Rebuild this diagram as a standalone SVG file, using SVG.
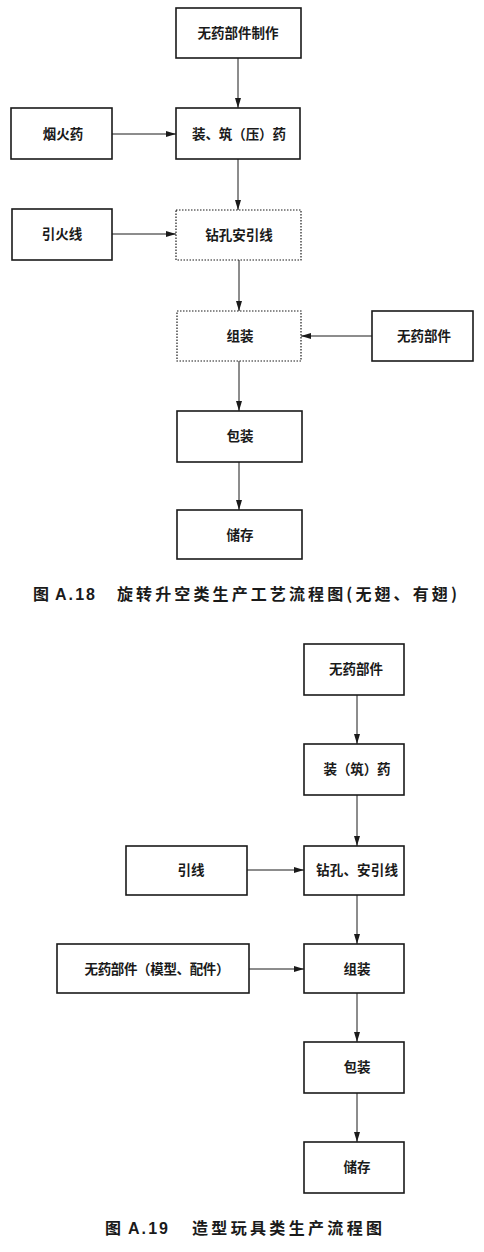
<svg xmlns="http://www.w3.org/2000/svg" width="484" height="1252" viewBox="0 0 484 1252">
<defs>
<marker id="arr" viewBox="0 0 10 6" refX="10" refY="3" markerWidth="10" markerHeight="6" markerUnits="userSpaceOnUse" orient="auto">
<path d="M0,0 L10,3 L0,6 Z" fill="#1a1a1a"/>
</marker>
<style>
.box{fill:#fff;stroke:#1a1a1a;stroke-width:1.6}
.dot{fill:#fff;stroke:#1a1a1a;stroke-width:1.2;stroke-dasharray:1.5 1.5}
.t{font-family:"Noto Sans CJK SC","Noto Sans CJK JP",sans-serif;font-size:13.5px;font-weight:bold;fill:#1a1a1a;text-anchor:middle}
.cap{font-family:"Noto Sans CJK SC","Liberation Sans",sans-serif;font-size:16px;font-weight:bold;fill:#1a1a1a}
.ln{stroke:#1a1a1a;stroke-width:1;fill:none}
</style>
</defs>
<rect width="484" height="1252" fill="#fff"/>

<g id="connectors">
<line class="ln" x1="238" y1="58" x2="238" y2="108" marker-end="url(#arr)"/>
<line class="ln" x1="112" y1="134" x2="176" y2="134" marker-end="url(#arr)"/>
<line class="ln" x1="238" y1="159" x2="238" y2="210" marker-end="url(#arr)"/>
<line class="ln" x1="112" y1="234" x2="176" y2="234" marker-end="url(#arr)"/>
<line class="ln" x1="239" y1="260" x2="239" y2="311" marker-end="url(#arr)"/>
<line class="ln" x1="372" y1="336" x2="301" y2="336" marker-end="url(#arr)"/>
<line class="ln" x1="239" y1="361" x2="239" y2="411" marker-end="url(#arr)"/>
<line class="ln" x1="239" y1="462" x2="239" y2="510" marker-end="url(#arr)"/>

<line class="ln" x1="357" y1="695" x2="357" y2="744" marker-end="url(#arr)"/>
<line class="ln" x1="357" y1="795" x2="357" y2="846" marker-end="url(#arr)"/>
<line class="ln" x1="247" y1="870" x2="304" y2="870" marker-end="url(#arr)"/>
<line class="ln" x1="357" y1="895" x2="357" y2="944" marker-end="url(#arr)"/>
<line class="ln" x1="249" y1="969" x2="304" y2="969" marker-end="url(#arr)"/>
<line class="ln" x1="357" y1="993" x2="357" y2="1042" marker-end="url(#arr)"/>
<line class="ln" x1="357" y1="1093" x2="357" y2="1142" marker-end="url(#arr)"/>
</g>

<g id="n1"><rect class="box" x="176" y="8" width="125" height="50"/><text class="t" x="238" y="38">无药部件制作</text></g>
<g id="n2"><rect class="box" x="176" y="108" width="124" height="51"/><text class="t" x="239" y="139" textLength="94" lengthAdjust="spacing">装、筑（压）药</text></g>
<g id="n3"><rect class="box" x="11" y="108" width="101" height="51"/><text class="t" x="63" y="139">烟火药</text></g>
<g id="n4"><rect class="dot" x="176" y="210" width="125" height="50"/><text class="t" x="239" y="240">钻孔安引线</text></g>
<g id="n5"><rect class="box" x="12" y="209" width="100" height="51"/><text class="t" x="62" y="239">引火线</text></g>
<g id="n6"><rect class="dot" x="177" y="311" width="124" height="50"/><text class="t" x="240" y="341">组装</text></g>
<g id="n7"><rect class="box" x="372" y="311" width="101" height="50"/><text class="t" x="424" y="341">无药部件</text></g>
<g id="n8"><rect class="box" x="177" y="411" width="125" height="51"/><text class="t" x="240" y="441">包装</text></g>
<g id="n9"><rect class="box" x="177" y="510" width="125" height="49"/><text class="t" x="240" y="540">储存</text></g>

<g id="cap1"><text class="cap" y="600"><tspan x="33">图</tspan><tspan x="55" font-family="Liberation Sans,sans-serif" textLength="40">A.18</tspan><tspan x="117" textLength="340" lengthAdjust="spacing">旋转升空类生产工艺流程图(无翅、有翅)</tspan></text></g>

<g id="m1"><rect class="box" x="304" y="644" width="100" height="51"/><text class="t" x="356" y="674">无药部件</text></g>
<g id="m2"><rect class="box" x="304" y="744" width="100" height="51"/><text class="t" x="357" y="774" textLength="67" lengthAdjust="spacing">装（筑）药</text></g>
<g id="m3"><rect class="box" x="304" y="846" width="100" height="49"/><text class="t" x="357" y="875" textLength="82" lengthAdjust="spacing">钻孔、安引线</text></g>
<g id="m4"><rect class="box" x="126" y="846" width="121" height="49"/><text class="t" x="191" y="875">引线</text></g>
<g id="m5"><rect class="box" x="304" y="944" width="100" height="49"/><text class="t" x="357" y="974">组装</text></g>
<g id="m6"><rect class="box" x="57" y="944" width="192" height="49"/><text class="t" x="157" y="974" textLength="145" lengthAdjust="spacing">无药部件（模型、配件）</text></g>
<g id="m7"><rect class="box" x="304" y="1042" width="100" height="51"/><text class="t" x="357" y="1072">包装</text></g>
<g id="m8"><rect class="box" x="304" y="1142" width="100" height="51"/><text class="t" x="357" y="1172">储存</text></g>

<g id="cap2"><text class="cap" y="1234"><tspan x="105">图</tspan><tspan x="128" font-family="Liberation Sans,sans-serif" textLength="40">A.19</tspan><tspan x="192" textLength="190" lengthAdjust="spacing">造型玩具类生产流程图</tspan></text></g>
</svg>
